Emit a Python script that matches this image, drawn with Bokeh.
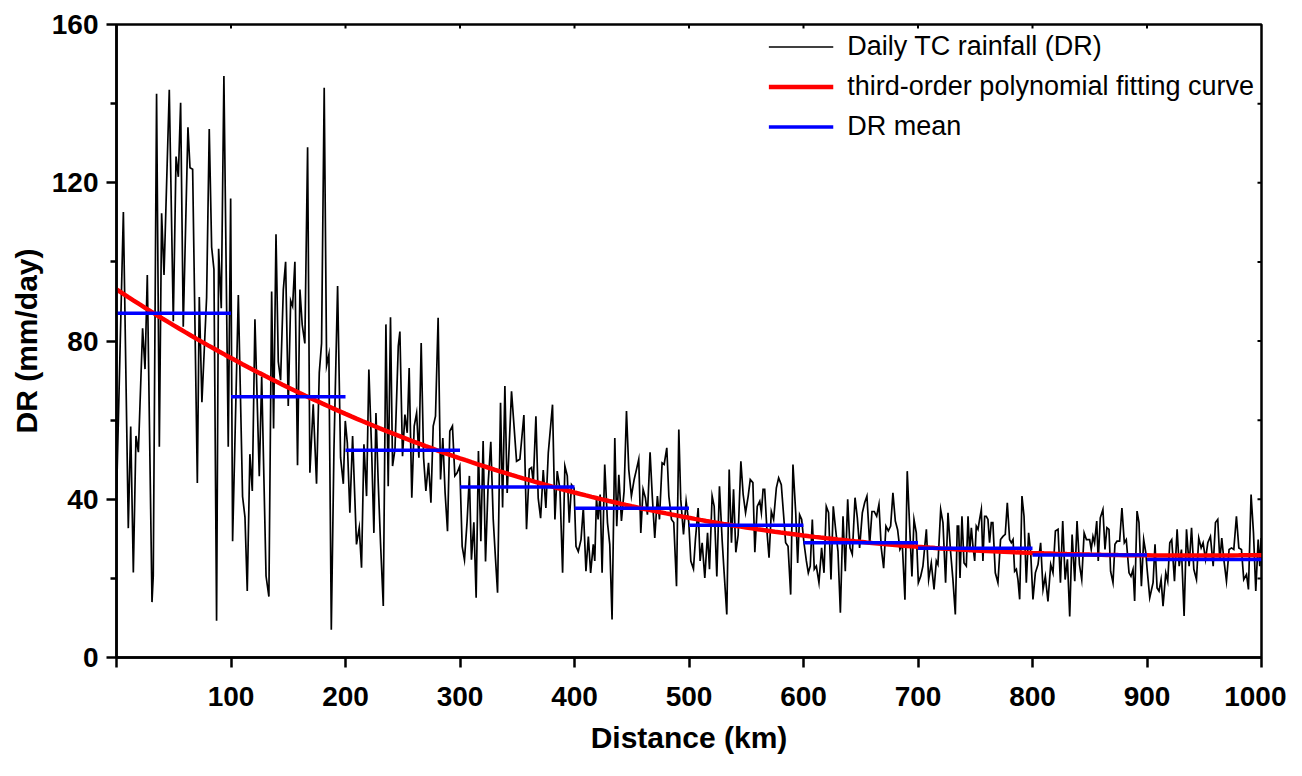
import numpy as np
from bokeh.plotting import figure
from bokeh.models import (Range1d, FixedTicker, Legend, LegendItem, ColumnDataSource)
from bokeh.embed import file_html
from bokeh.resources import INLINE

# ---------------- data ----------------
distance_km = [
    0.1, 6.0, 10.3, 12.4, 14.7, 17.0, 19.1, 22.8, 24.9, 26.9, 31.0, 32.1, 35.0, 37.4, 39.4, 41.5,
    46.1, 49.6, 52.0, 54.0, 56.0, 58.3, 62.4, 64.2, 66.5, 70.6, 72.3, 74.6, 78.7, 81.0, 83.1, 85.1,
    87.4, 89.2, 91.5, 93.8, 97.6, 99.7,
    101.4, 106.4, 110.1, 112.2, 114.2, 116.5, 118.6, 120.9, 124.7, 126.8, 130.6, 133.1, 135.5, 137.2,
    139.3, 141.3, 143.3, 145.7, 147.7, 150.0, 152.1, 153.8, 155.8, 158.1, 160.2, 162.2, 164.5, 166.9,
    168.9, 171.8, 174.7, 177.1, 179.1, 181.4, 183.5, 185.5, 187.6, 189.9, 193.1, 195.7, 198.1, 199.8,
    201.6,
    203.8, 206.2, 208.2, 209.6, 212.0, 214.0, 216.1, 218.4, 220.4, 222.8, 224.8, 226.6, 228.6, 230.6,
    233.0, 235.3, 237.3, 239.3, 241.1, 243.2, 246.1, 247.5, 249.8, 251.9, 253.9, 255.6, 257.9, 260.0,
    262.1, 264.1, 266.1, 268.2, 270.2, 272.5, 274.6, 276.6, 278.6, 280.9, 283.0, 285.0, 287.0, 289.1,
    291.1, 293.4, 295.5, 297.5, 299.8, 301.9, 303.9, 306.2, 308.2, 310.0, 312.1, 314.1, 316.1,
    318.2, 320.2, 322.3, 324.6, 326.9, 329.0, 331.0, 332.8, 335.4, 337.2, 339.2, 341.2, 345.0, 349.4,
    352.3, 355.8, 358.1, 360.5, 362.5, 364.0, 366.3, 368.3, 370.4, 372.7, 375.0, 377.1, 380.8, 382.9,
    384.9, 387.3, 389.6, 391.6, 393.7, 395.4, 397.4, 399.6, 401.3, 403.3, 405.7, 407.7, 410.0, 412.1,
    414.1, 416.4,
    417.7, 419.2, 420.6, 422.4, 424.1, 426.4, 428.8, 430.8, 432.8, 435.2, 436.9, 438.7, 441.0, 443.3,
    445.4, 447.4, 449.7, 452.1, 454.1, 456.1, 457.9, 459.9, 461.9, 463.7, 466.0, 468.0, 470.1, 472.4,
    474.2, 476.5, 478.3, 480.6, 482.4, 484.7, 486.7, 489.1, 491.1, 492.8, 495.2, 497.5, 499.8, 501.6,
    503.9, 505.6, 508.0, 509.7, 511.5, 513.8, 516.2, 517.9, 520.2, 522.0, 524.3, 526.6, 529.0, 530.7,
    533.0, 535.1, 537.1, 538.9, 540.9, 542.9, 545.3, 547.3, 549.4, 551.7, 553.5, 555.8, 557.5, 559.6,
    561.8, 563.2, 564.7, 566.1, 568.2, 569.9, 571.9, 573.9, 576.3, 578.3, 580.6, 582.7, 584.4, 586.5,
    588.8, 590.8, 593.2, 594.9, 596.6, 598.4, 600.4, 602.5, 604.2, 605.9, 607.7, 609.4, 611.2, 613.5,
    615.8, 617.9, 619.9, 621.9, 624.0, 626.0, 628.1, 630.1, 632.2, 634.5, 636.5, 638.6, 640.6, 642.6,
    645.0, 647.0, 649.0, 651.4, 653.4, 655.4, 657.8, 659.8, 661.8, 663.9, 665.9, 667.9, 670.0, 672.0,
    674.1, 676.1, 678.1, 680.2, 682.2, 684.2, 686.3, 688.6, 690.6, 692.7, 694.7, 696.5, 698.5, 700.3,
    702.3, 704.3,
    707.3, 709.3, 711.6, 714.0, 716.0, 717.4, 719.8, 721.8, 724.1, 726.2, 728.5, 730.5, 732.6, 734.3,
    735.5, 736.7, 738.4, 740.2, 742.2, 743.7, 745.1, 746.6, 748.0, 749.5, 750.9, 752.4, 753.8, 755.3,
    756.7, 758.2, 759.6, 761.1, 762.5, 764.0, 765.4, 767.5, 769.8, 772.1, 774.2, 776.2, 778.0, 780.0,
    781.5, 783.0, 784.4, 785.9, 787.3, 788.8, 790.8, 792.6, 794.6, 796.6, 798.4, 800.4, 802.5, 804.8,
    807.1, 809.2, 811.2, 813.5, 815.9, 817.9, 820.0, 822.3, 824.4, 826.4, 828.5, 830.5, 832.5, 834.6,
    836.9, 838.9, 841.0, 843.0, 845.1, 847.1,
    849.9, 851.3, 852.8, 854.2, 856.1, 857.4, 859.2, 861.5, 863.3, 865.0, 866.8, 868.2, 870.3, 872.0,
    873.8, 876.1, 878.1, 880.2, 881.9, 884.3, 886.0, 887.8, 889.2, 891.3, 893.0, 895.1, 897.1, 898.9,
    900.1, 902.4, 905.3, 907.0, 908.8, 910.5, 912.3, 914.0, 916.4, 918.1, 919.9, 921.6, 924.0, 926.3,
    928.1, 930.1, 932.4, 934.5, 936.8, 938.9, 940.9, 943.2, 945.2, 947.3, 949.0, 951.1, 953.1, 955.4,
    957.8, 959.8, 961.8, 963.6, 965.3, 967.1, 969.4, 971.7, 973.8, 975.8, 978.1, 980.2, 982.5, 984.5,
    986.9, 988.6, 990.9, 993.0, 995.0, 997.1, 998.5, 999.7,
]

daily_rainfall = [
    41.6, 112.6, 32.7, 58.4, 21.5, 56.0, 51.9, 83.2, 72.9, 96.7, 14.0, 20.6, 142.5, 53.3, 112.3, 96.7,
    143.5, 85.0, 126.6, 121.5, 140.2, 83.6, 134.0, 123.8, 123.4, 44.1, 91.1, 64.5, 91.0, 133.6, 103.7, 98.1,
    9.3, 103.3, 88.3, 147.0, 53.3, 116.0,
    29.4, 91.6, 40.7, 35.5, 16.8, 51.4, 42.1, 85.5, 45.8, 71.0, 20.6, 15.4, 92.5, 57.9,
    107.0, 74.8, 70.1, 93.0, 100.0, 63.6, 90.2, 88.8, 100.0, 48.6, 93.0, 84.1, 79.4, 129.0,
    46.7, 64.0, 43.9, 72.0, 79.4, 144.0, 73.8, 76.6, 7.0, 52.3, 93.9, 50.5, 43.9, 59.8,
    54.2,
    36.6, 56.0, 39.9, 28.6, 32.8, 22.7, 53.9, 40.8, 72.8, 52.6, 31.5, 61.8, 44.1, 28.9,
    13.0, 84.2, 43.3, 86.0, 48.4, 52.6, 78.7, 82.4, 50.9, 61.4, 56.8, 73.2, 40.4, 58.5,
    61.8, 50.5, 79.5, 50.5, 42.1, 49.2, 39.1, 58.5, 61.0, 85.9, 45.0, 55.5, 41.6, 31.9,
    57.2, 58.5, 45.9, 46.7, 48.4, 28.1, 24.7, 34.4, 45.9, 24.7, 34.2, 15.1, 52.2,
    29.4, 54.7, 24.3, 44.0, 54.5, 35.0, 25.0, 16.4, 64.4, 37.9, 68.6, 41.6, 67.3, 49.6,
    50.1, 61.3, 32.4, 47.6, 48.0, 44.2, 61.0, 40.3, 35.2, 47.4, 37.8, 51.7, 63.9, 34.9,
    47.1, 42.5, 21.4, 48.4, 45.9, 34.1, 43.7, 42.8, 28.1, 26.8, 29.8, 37.9, 21.8, 30.6,
    21.4, 28.6,
    24.4, 40.4, 34.9, 41.2, 21.4, 48.8, 34.1, 28.6, 9.6, 55.5, 33.2, 46.2, 34.5, 42.0,
    62.3, 47.5, 40.8, 45.0, 47.5, 50.1, 31.5, 42.5, 40.4, 36.1, 51.9, 40.4, 30.2, 40.8,
    34.9, 49.2, 48.8, 53.0, 40.8, 34.9, 34.1, 18.0, 57.6, 39.9, 31.1, 39.5, 34.1, 24.4,
    22.4, 29.8, 37.8, 24.4, 29.0, 20.1, 31.5, 22.3, 40.8, 38.2, 20.5, 43.3, 29.4, 21.4,
    10.9, 47.5, 29.0, 42.5, 26.6, 30.9, 49.6, 41.2, 36.6, 40.8, 45.0, 44.2, 26.6, 38.2,
    39.5, 36.6, 42.5, 42.5, 31.5, 25.2, 36.9, 34.9, 42.9, 45.4, 43.7, 35.7, 29.0, 28.1,
    15.9, 48.8, 36.6, 23.9, 36.1, 34.9, 29.0, 24.4, 21.4, 23.1, 34.9, 22.3, 23.1, 18.9,
    27.7, 21.4, 38.2, 36.6, 19.7, 38.2, 32.3, 26.9, 11.3, 35.7, 21.8, 40.0, 27.7, 26.1,
    40.4, 35.3, 27.7, 36.6, 39.1, 40.8, 28.6, 36.9, 36.9, 35.7, 38.7, 27.7, 22.6, 33.2,
    32.0, 33.2, 41.6, 34.5, 32.3, 27.3, 28.6, 14.6, 47.1, 33.2, 20.5, 34.9, 31.5, 18.9,
    20.5, 23.1,
    32.4, 19.7, 23.9, 17.2, 24.4, 23.5, 37.4, 34.1, 18.9, 36.6, 26.6, 19.7, 10.9, 33.2,
    33.2, 20.1, 35.7, 23.9, 23.1, 35.7, 26.6, 32.8, 28.1, 24.4, 33.2, 32.4, 34.9, 37.4,
    24.4, 35.7, 35.7, 34.9, 29.0, 34.1, 34.1, 21.4, 18.9, 29.8, 30.6, 31.1, 39.1, 29.8,
    29.0, 29.8, 21.8, 22.3, 19.7, 14.7, 40.8, 35.7, 18.9, 31.5, 26.6, 14.7, 21.4, 23.5,
    29.0, 17.2, 20.5, 14.2, 23.5, 21.4, 32.0, 32.4, 18.9, 34.5, 19.7, 24.8, 10.4, 31.1,
    19.3, 34.5, 23.5, 19.7, 31.5, 29.8,
    29.8, 27.3, 30.6, 29.0, 34.5, 24.4, 35.3, 37.4, 27.3, 32.8, 32.4, 21.8, 18.9, 28.6,
    29.4, 29.4, 37.8, 29.0, 29.8, 21.4, 20.5, 22.3, 14.3, 37.0, 34.1, 18.0, 29.8, 26.6,
    22.3, 15.1, 18.9, 28.6, 17.6, 16.8, 19.7, 13.0, 21.4, 19.3, 29.0, 29.8, 19.3, 32.4,
    23.1, 27.3, 10.5, 32.4, 23.1, 32.8, 22.3, 19.7, 30.2, 27.7, 29.0, 24.8, 29.0, 30.6,
    23.1, 34.1, 34.9, 24.4, 30.2, 24.8, 19.3, 27.3, 27.7, 27.3, 35.7, 27.7, 27.3, 19.7,
    21.0, 17.2, 41.2, 31.5, 16.8, 29.8, 23.1, 30.2,
]

# DR mean for each 100-km band
bin_start = [0, 100, 200, 300, 400, 500, 600, 700, 800, 900]
bin_end = [100, 200, 300, 400, 500, 600, 700, 800, 900, 1000]
dr_mean = [87.0, 65.9, 52.4, 43.1, 37.7, 33.4, 29.0, 27.6, 25.9, 24.8]

# third-order polynomial fitting curve, read at every 100 km
fit_km = [0, 100, 200, 300, 400, 500, 600, 700, 800, 900, 1000]
fit_val = [93.0, 75.8, 61.5, 50.3, 41.8, 35.4, 30.7, 27.9, 26.5, 25.9, 25.8]

x_ticks = [0, 100, 200, 300, 400, 500, 600, 700, 800, 900, 1000]
y_ticks = [0, 40, 80, 120, 160]
y_minor = [20, 60, 100, 140]
top_ticks = [100, 200, 300, 400, 500, 600, 700, 800, 900]
right_ticks = [20, 40, 60, 80, 100, 120, 140]

X_MAX = 1000
Y_MAX = 160

# ---------------- figure ----------------
FONT = "Liberation Sans"

p = figure(width=1286, height=766, output_backend="svg", toolbar_location=None,
           x_range=Range1d(0, X_MAX), y_range=Range1d(0, Y_MAX),
           min_border_left=116, min_border_right=25, min_border_top=24, min_border_bottom=109,
           background_fill_color="white", border_fill_color="white")
p.grid.visible = False
p.outline_line_color = "black"
p.outline_line_width = 2.5

# data line
p.line(distance_km, daily_rainfall, line_color="black", line_width=1.7, line_join="miter")

# polynomial curve (cubic through the read values)
coef = np.polyfit(fit_km, fit_val, 3)
xs = np.linspace(0, X_MAX, 201)
red = p.line(xs, np.polyval(coef, xs), line_color="#ff0000", line_width=4.5)

# mean segments
seg_src = ColumnDataSource(dict(x0=bin_start, x1=bin_end, y=dr_mean))
blue = p.segment(x0="x0", y0="y", x1="x1", y1="y", source=seg_src,
                 line_color="#0000ff", line_width=3.5)

# legend-only black glyph (thin)
black_leg = p.line([None], [None], line_color="black", line_width=1.3)

# inward ticks on the top and right edges of the box
tick_len_y = 4 * Y_MAX / 633.0
tick_len_x = 4 * X_MAX / 1145.0
p.segment(x0=top_ticks, y0=[Y_MAX] * len(top_ticks), x1=top_ticks,
          y1=[Y_MAX - tick_len_y] * len(top_ticks), line_color="black", line_width=2)
p.segment(x0=[X_MAX] * len(right_ticks), y0=right_ticks, x1=[X_MAX - tick_len_x] * len(right_ticks),
          y1=right_ticks, line_color="black", line_width=2)

# axes
ax = p.xaxis[0]
ax.ticker = FixedTicker(ticks=x_ticks, minor_ticks=[])
ax.major_label_overrides = {0: ""}
ay = p.yaxis[0]
ay.ticker = FixedTicker(ticks=y_ticks, minor_ticks=y_minor)

for a in (ax, ay):
    a.axis_line_width = 2.5
    a.axis_line_color = "black"
    a.major_tick_line_width = 2.5
    a.minor_tick_line_width = 2.5
    a.major_tick_in = 0
    a.major_tick_out = 10
    a.minor_tick_in = 0
    a.minor_tick_out = 6
    a.major_label_text_font = FONT
    a.major_label_text_font_style = "bold"
    a.major_label_text_font_size = "28px"
    a.major_label_text_color = "black"
    a.axis_label_text_font = FONT
    a.axis_label_text_font_style = "bold"
    a.axis_label_text_font_size = "30px"
    a.axis_label_text_color = "black"

ax.axis_label = "Distance (km)"
ax.major_label_standoff = 19
ax.axis_label_standoff = 12
ay.axis_label = "DR (mm/day)"
ay.major_label_standoff = 8
ay.axis_label_standoff = 6

legend = Legend(items=[
    LegendItem(label="Daily TC rainfall (DR)", renderers=[black_leg]),
    LegendItem(label="third-order polynomial fitting curve", renderers=[red]),
    LegendItem(label="DR mean", renderers=[blue]),
], location="top_right")
legend.border_line_color = None
legend.background_fill_alpha = 0
legend.label_text_font = FONT
legend.label_text_font_size = "27px"
legend.label_text_color = "black"
legend.glyph_width = 65
legend.glyph_height = 31
legend.label_height = 31
legend.label_standoff = 14
legend.spacing = 9
legend.padding = 0
legend.margin = 7
p.add_layout(legend)

open("out.html", "w").write(file_html(p, INLINE))
